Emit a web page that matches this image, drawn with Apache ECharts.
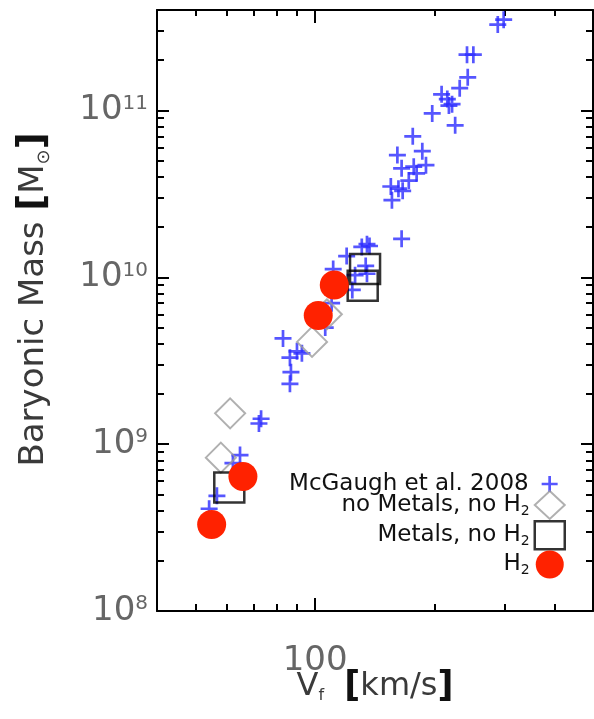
<!DOCTYPE html>
<html>
<head>
<meta charset="utf-8">
<script src="https://cdn.jsdelivr.net/npm/echarts@6/dist/echarts.min.js"></script>
<style>
html, body { margin: 0; padding: 0; background: #fff; }
#chart { width: 594px; height: 719px; }
</style>
</head>
<body>
<div id="chart"></div>
<script>
// Observed galaxies (McGaugh et al. 2008): flat rotation speed [km/s] and baryonic mass [Msun]
const mcgaughV = [298, 288, 241, 250, 242, 231, 208, 215, 217, 221, 197, 225,
  176, 186, 161, 165, 177, 190, 180, 172, 155, 162, 166, 156, 165,
  135, 131, 137, 120, 134, 126, 135, 111, 124, 110, 106,
  83, 90, 92.6, 86.4, 86.9, 86.4, 73.1, 72.2, 64.7, 62.1, 56.6, 54.1];
const mcgaughMass = [3.50e11, 3.27e11, 2.16e11, 2.16e11, 1.58e11, 1.36e11, 1.25e11, 1.17e11, 1.07e11, 1.09e11, 9.6e10, 8.15e10,
  7.0e10, 5.7e10, 5.4e10, 4.5e10, 4.6e10, 4.7e10, 4.2e10, 3.8e10, 3.5e10, 3.4e10, 3.3e10, 2.9e10, 1.7e10,
  1.58e10, 1.52e10, 1.54e10, 1.34e10, 1.17e10, 1.03e10, 1.05e10, 1.12e10, 8.4e9, 7.0e9, 5.0e9,
  4.3e9, 3.6e9, 3.5e9, 3.3e9, 2.7e9, 2.3e9, 1.42e9, 1.33e9, 8.6e8, 7.7e8, 4.9e8, 4.1e8];

// Simulated galaxies, three physics variants
const noMetalsV = [61.1, 57.9, 98.2, 107];
const noMetalsMass = [1.53e9, 8.3e8, 4.1e9, 6.0e9];
const metalsV = [60.8, 133.5, 131.7];
const metalsMass = [5.5e8, 1.12e10, 8.9e9];
const h2V = [54.9, 65.8, 101.8, 111.7];
const h2Mass = [3.3e8, 6.4e8, 5.9e9, 9.0e9];

// Axis ranges and tick values
const xRange = [40, 500];
const yRange = [1e8, 4e11];
const xMajorTicks = [100];
const xMinorTicks = [50, 60, 70, 80, 90, 200, 300, 400];
const yMajorTicks = [1e8, 1e9, 1e10, 1e11];
const yMinorTicks = [2e8, 3e8, 4e8, 5e8, 6e8, 7e8, 8e8, 9e8,
  2e9, 3e9, 4e9, 5e9, 6e9, 7e9, 8e9, 9e9,
  2e10, 3e10, 4e10, 5e10, 6e10, 7e10, 8e10, 9e10,
  2e11, 3e11];

const seriesNames = ['McGaugh et al. 2008', 'no Metals, no H2', 'Metals, no H2', 'H2'];

const FONT = 'DejaVu Sans';
const PLUS = 'path://M0,8L16,8M8,0L8,16';
const BLUE = '#2c2cff';
const GREY = '#9c9c9c';
const RED = '#ff2200';

function zip(xs, ys) { return xs.map((x, i) => [x, ys[i]]); }

// four stacked grids share one frame; each carries one x and one y tick set
const FRAME = { left: 157, right: 1, top: 10, bottom: 108 };
const grids = [0, 1, 2, 3].map(() => Object.assign({}, FRAME));

function tickAxis(grid, position, range, ticks, len, showLine) {
  return {
    type: 'log', logBase: 10, gridIndex: grid, position: position,
    min: range[0], max: range[1],
    axisLine: { show: showLine, lineStyle: { color: '#000', width: 2 } },
    axisTick: { show: true, inside: true, length: len, customValues: ticks,
      lineStyle: { color: '#000', width: 2 } },
    axisLabel: { show: true, inside: true, customValues: ticks, formatter: () => '', color: 'rgba(0,0,0,0)' },
    splitLine: { show: true, lineStyle: { color: 'rgba(0,0,0,0)', opacity: 0 } },
    nameMoveOverlap: false
  };
}

const xMain = tickAxis(0, 'bottom', xRange, xMajorTicks, 13, true);
xMain.axisLabel = {
  show: true, customValues: xMajorTicks, margin: 33,
  fontFamily: FONT, fontSize: 34, color: '#666',
  formatter: v => String(Math.round(v))
};
xMain.name = 'V{sub|f}  {br|[}km/s{br|]}';
xMain.nameLocation = 'middle';
xMain.nameGap = 58;
xMain.nameTextStyle = {
  fontFamily: FONT, fontSize: 32, color: '#3a3a3a',
  rich: {
    sub: { fontFamily: FONT, fontSize: 16, color: '#3a3a3a', verticalAlign: 'bottom', padding: [14, 0, 0, 0] },
    br: { fontFamily: FONT, fontSize: 35, fontWeight: 'bold', color: '#111' }
  }
};

const yMain = tickAxis(0, 'left', yRange, yMajorTicks, 12, true);
yMain.axisLabel = {
  show: true, customValues: yMajorTicks, margin: 9,
  fontFamily: FONT, fontSize: 34, color: '#666',
  formatter: v => '10{sup|' + Math.round(Math.log10(v)) + '}',
  rich: {
    sup: { fontFamily: FONT, fontSize: 20, color: '#666', verticalAlign: 'top', lineHeight: 20 }
  }
};
yMain.name = 'Baryonic Mass {br|[}M{sub|\u2299}{br|]}';
yMain.nameLocation = 'middle';
yMain.nameGap = 104;
yMain.nameRotate = 90;
yMain.nameTextStyle = {
  fontFamily: FONT, fontSize: 34, color: '#3a3a3a', padding: [0, 0, 0, 22],
  rich: {
    sub: { fontFamily: FONT, fontSize: 18, color: '#3a3a3a', verticalAlign: 'bottom', padding: [12, 0, 0, 0] },
    br: { fontFamily: FONT, fontSize: 37, fontWeight: 'bold', color: '#111' }
  }
};

const legendText = {
  fontFamily: FONT, fontSize: 23, color: '#111', lineHeight: 26,
  rich: { sub: { fontFamily: FONT, fontSize: 14, color: '#111', verticalAlign: 'bottom', lineHeight: 26, padding: [6, 0, 0, 0] } }
};
const legendFormatter = name => name.replace('H2', 'H{sub|2}');

const chart = echarts.init(document.getElementById('chart'), null, { renderer: 'canvas' });
chart.setOption({
  animation: false,
  backgroundColor: '#fff',
  textStyle: { fontFamily: FONT },
  grid: grids,
  xAxis: [
    xMain,
    tickAxis(1, 'bottom', xRange, xMinorTicks, 7, false),
    tickAxis(2, 'top', xRange, xMajorTicks, 13, true),
    tickAxis(3, 'top', xRange, xMinorTicks, 6, false)
  ],
  yAxis: [
    yMain,
    tickAxis(1, 'left', yRange, yMinorTicks, 7, false),
    tickAxis(2, 'right', yRange, yMajorTicks, 12, true),
    tickAxis(3, 'right', yRange, yMinorTicks, 7, false)
  ],
  legend: [
    {
      data: [{ name: seriesNames[0], itemStyle: { color: 'rgba(0,0,0,0)', borderColor: BLUE, borderWidth: 2.7 } }],
      orient: 'vertical', align: 'right', right: 35, top: 471, padding: 0,
      itemWidth: 16, itemHeight: 16, itemGap: 0,
      textStyle: Object.assign({}, legendText, { padding: [0, 8, 0, 0] }),
      formatter: legendFormatter, selectedMode: false
    },
    {
      data: [
        { name: seriesNames[1], itemStyle: { color: 'rgba(0,0,0,0)', borderColor: GREY, borderWidth: 2 } },
        { name: seriesNames[2], itemStyle: { color: 'rgba(0,0,0,0)', borderColor: '#000', borderWidth: 2.5 } },
        { name: seriesNames[3], itemStyle: { color: RED, borderWidth: 0 } }
      ],
      orient: 'vertical', align: 'right', right: 28, top: 490, padding: 0,
      itemWidth: 30, itemHeight: 28, itemGap: 0,
      textStyle: legendText,
      formatter: legendFormatter, selectedMode: false
    }
  ],
  series: [
    {
      name: seriesNames[0], type: 'scatter', symbol: PLUS, symbolSize: 17,
      xAxisIndex: 0, yAxisIndex: 0,
      itemStyle: { color: 'rgba(0,0,0,0)', borderColor: BLUE, borderWidth: 2.7 },
      data: zip(mcgaughV, mcgaughMass), silent: true
    },
    {
      name: seriesNames[1], type: 'scatter', symbol: 'diamond', symbolSize: 30,
      xAxisIndex: 0, yAxisIndex: 0,
      itemStyle: { color: 'rgba(0,0,0,0)', borderColor: GREY, borderWidth: 2 },
      data: zip(noMetalsV, noMetalsMass), silent: true
    },
    {
      name: seriesNames[2], type: 'scatter', symbol: 'rect', symbolSize: 30,
      xAxisIndex: 0, yAxisIndex: 0,
      itemStyle: { color: 'rgba(0,0,0,0)', borderColor: '#000', borderWidth: 2.5 },
      data: zip(metalsV, metalsMass), silent: true
    },
    {
      name: seriesNames[3], type: 'scatter', symbol: 'circle', symbolSize: 29,
      xAxisIndex: 0, yAxisIndex: 0,
      itemStyle: { color: RED, opacity: 1 },
      data: zip(h2V, h2Mass), silent: true
    }
  ]
});
</script>
</body>
</html>
